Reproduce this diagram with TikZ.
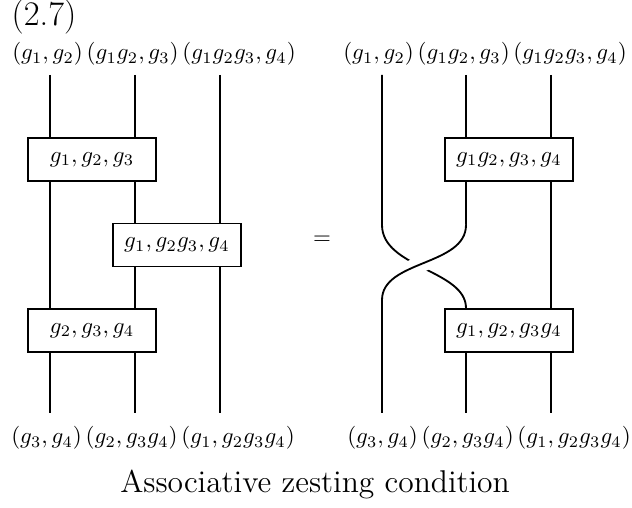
\documentclass[tikz,border=0pt]{standalone}
\usepackage{fontspec}
\tikzset{
	zbox/.style={draw,thick,fill=white,minimum width=55.7pt,minimum height=18.7pt,inner sep=0pt},
	strand/.style={thick},
	overstrand/.style={thick,preaction={draw,white,line width=7pt}}
}
\begin{document}
\begin{tikzpicture}[x=0.435pt,y=-0.435pt]
	\useasboundingbox (0,0) rectangle (632,508);
	
	% left side
	\coordinate (tl1) at (50,75);
	\coordinate (tl2) at (135,75);
	\coordinate (tl3) at (220,75);
	\coordinate (bl1) at (50,413);
	\coordinate (bl2) at (135,413);
	\coordinate (bl3) at (220,413);
	\node[zbox] (a1) at (92,159.5) {$g_1,g_2,g_3$};
	\node[zbox] (a2) at (177,245) {$g_1,g_2g_3,g_4$};
	\node[zbox] (a3) at (92,330.5) {$g_2,g_3,g_4$};
	
	\draw[strand] (tl1) -- (tl1 |- a1.north);
	\draw[strand] (tl1 |- a1.south) -- (tl1 |- a3.north);
	\draw[strand] (tl1 |- a3.south) -- (bl1);
	\draw[strand] (tl2) -- (tl2 |- a1.north);
	\draw[strand] (tl2 |- a1.south) -- (tl2 |- a2.north);
	\draw[strand] (tl2 |- a2.south) -- (tl2 |- a3.north);
	\draw[strand] (tl2 |- a3.south) -- (bl2);
	\draw[strand] (tl3) -- (tl3 |- a2.north);
	\draw[strand] (tl3 |- a2.south) -- (bl3);
	
	% right side
	\coordinate (tr1) at (382,75);
	\coordinate (tr2) at (466,75);
	\coordinate (tr3) at (551,75);
	\coordinate (br1) at (382,413);
	\coordinate (br2) at (466,413);
	\coordinate (br3) at (551,413);
	\node[zbox] (b1) at (509,159.5) {$g_1g_2,g_3,g_4$};
	\node[zbox] (b2) at (509,330.5) {$g_1,g_2,g_3g_4$};
	
	\draw[strand] (tr2) -- (tr2 |- b1.north);
	\draw[strand] (tr3) -- (tr3 |- b1.north);
	\draw[strand] (tr3 |- b1.south) -- (tr3 |- b2.north);
	\draw[strand] (tr3 |- b2.south) -- (br3);
	\draw[strand] (tr2 |- b2.south) -- (br2);
	
	% crossing
	\coordinate (ua) at (382,225);
	\coordinate (oa) at (466,225);
	\coordinate (ob) at (382,300);
	\draw[strand] (tr1) -- (ua) .. controls (382,268) and (466,270) .. (tr2 |- b2.north);
	\draw[strand] (tr2 |- b1.south) -- (oa);
	\draw[overstrand] (oa) .. controls (466,266) and (382,260) .. (ob);
	\draw[strand] (ob) -- (br1);
	
	\node (eq) at (322,240) {$=$};
	
	% labels
	\node (topL) at (154,54) {$(g_1,g_2)\,(g_1g_2,g_3)\,(g_1g_2g_3,g_4)$};
	\node (topR) at (485,54) {$(g_1,g_2)\,(g_1g_2,g_3)\,(g_1g_2g_3,g_4)$};
	\node (botL) at (153,438) {$(g_3,g_4)\,(g_2,g_3g_4)\,(g_1,g_2g_3g_4)$};
	\node (botR) at (489,438) {$(g_3,g_4)\,(g_2,g_3g_4)\,(g_1,g_2g_3g_4)$};
	
	\node (num) at (44,17) {\fontsize{15}{18}\selectfont (2.7)};
	\node[anchor=base] (cap) at (315,492) {\fontsize{13.7}{16}\selectfont Associative zesting condition};
\end{tikzpicture}
\end{document}
